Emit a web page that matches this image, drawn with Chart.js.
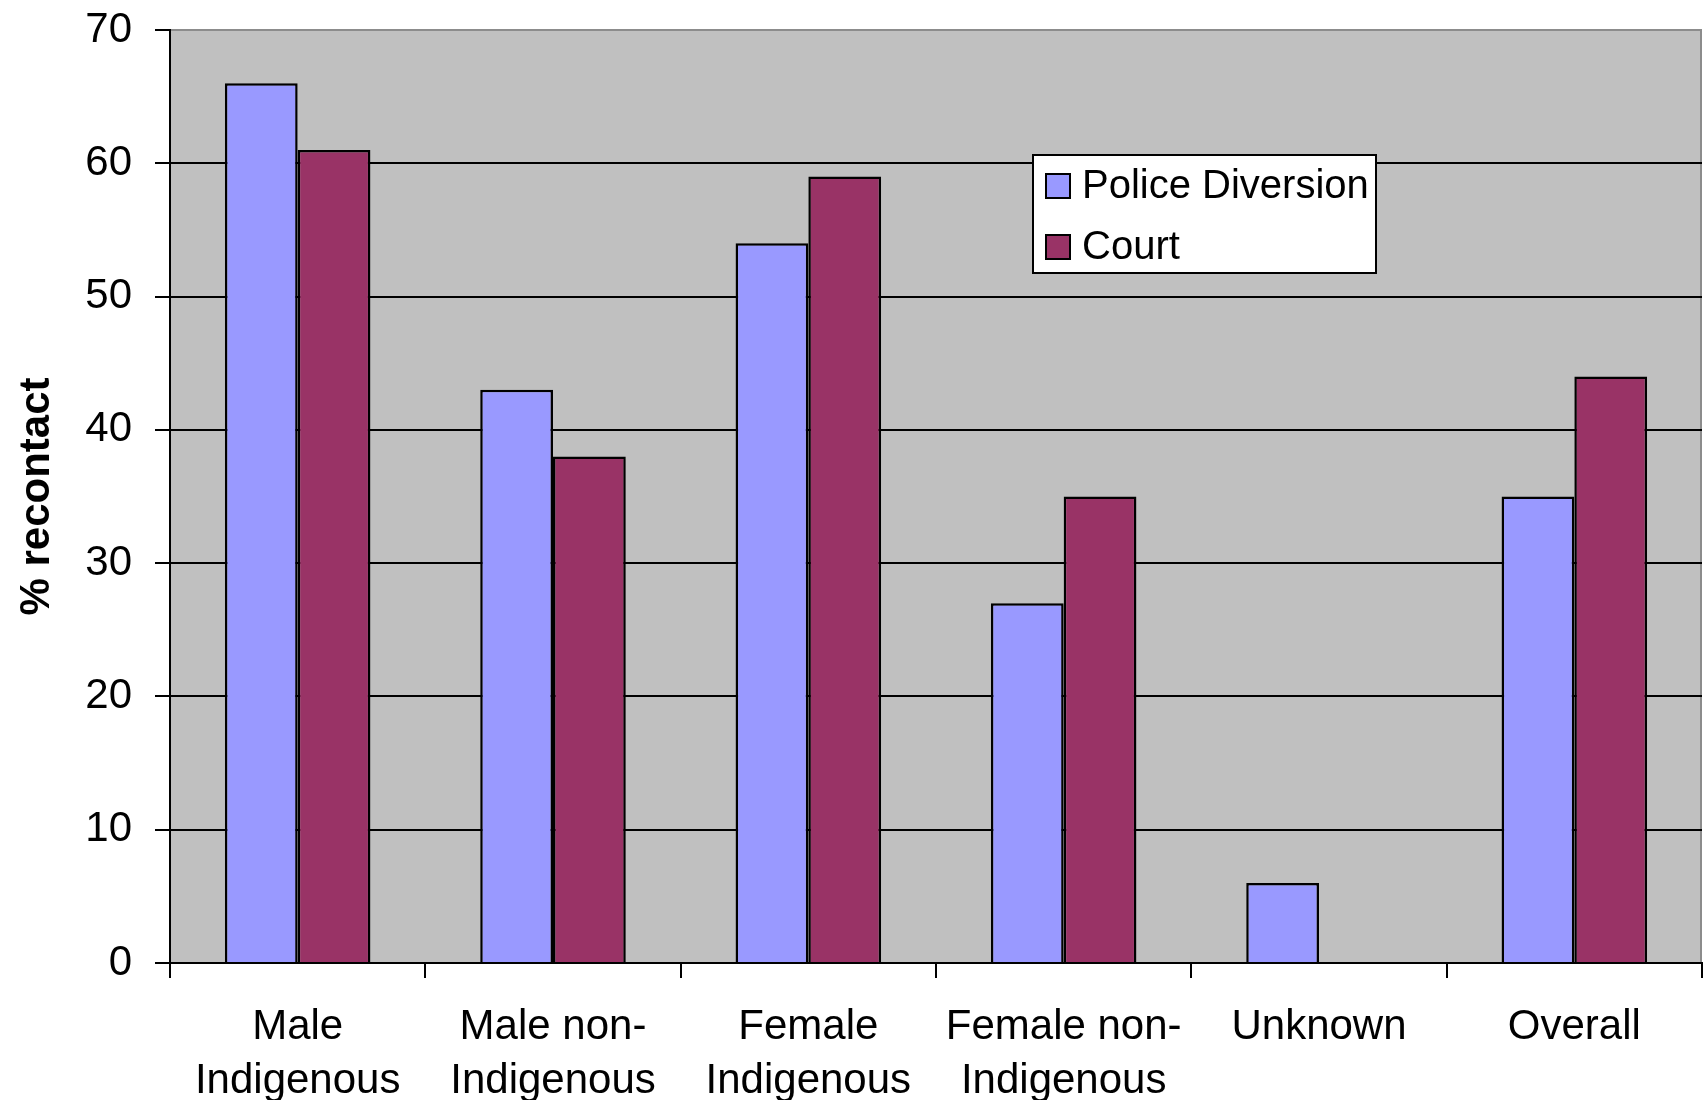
<!DOCTYPE html>
<html>
<head>
<meta charset="utf-8">
<script src="https://cdn.jsdelivr.net/npm/chart.js@4.4.1/dist/chart.umd.min.js"></script>
<style>
  html, body { margin: 0; padding: 0; background: #ffffff; }
  canvas { display: block; }
</style>
</head>
<body>
<canvas id="chart" width="1703" height="1100"></canvas>
<script>
// Recontact rates by group and processing route
const categories = [
  ['Male', 'Indigenous'],
  ['Male non-', 'Indigenous'],
  ['Female', 'Indigenous'],
  ['Female non-', 'Indigenous'],
  'Unknown',
  'Overall'
];
const policeDiversion = [66, 43, 54, 27, 6, 35];
const court = [61, 38, 59, 35, null, 44];
const yTickValues = [0, 10, 20, 30, 40, 50, 60, 70];
const seriesNames = ['Police Diversion', 'Court'];
const seriesColors = ['#9999FF', '#993366'];

const FONT = "'Liberation Sans', Arial, sans-serif";

// Grey plot background with a thin grey frame on top and right
const plotBackground = {
  id: 'plotBackground',
  beforeDraw(chart) {
    const { ctx, chartArea: a } = chart;
    ctx.save();
    ctx.fillStyle = '#C0C0C0';
    ctx.fillRect(a.left, a.top, a.right - a.left, a.bottom - a.top);
    ctx.strokeStyle = '#8c8c8c';
    ctx.lineWidth = 2;
    ctx.beginPath();
    ctx.moveTo(a.left, a.top);
    ctx.lineTo(a.right - 1, a.top);
    ctx.lineTo(a.right - 1, a.bottom);
    ctx.stroke();
    ctx.restore();
  }
};

// Boxed legend inside the plot area
const boxedLegend = {
  id: 'boxedLegend',
  afterDatasetsDraw(chart) {
    const { ctx } = chart;
    const box = { x: 1033, y: 155, w: 343, h: 118 };
    ctx.save();
    ctx.fillStyle = '#ffffff';
    ctx.fillRect(box.x, box.y, box.w, box.h);
    ctx.strokeStyle = '#000000';
    ctx.lineWidth = 2;
    ctx.strokeRect(box.x, box.y, box.w, box.h);
    ctx.font = '40px ' + FONT;
    ctx.textBaseline = 'middle';
    ctx.textAlign = 'left';
    chart.data.datasets.forEach((ds, i) => {
      const cy = 186 + i * 61;
      ctx.fillStyle = ds.backgroundColor;
      ctx.fillRect(1046, cy - 12, 24, 24);
      ctx.strokeStyle = '#000000';
      ctx.lineWidth = 2;
      ctx.strokeRect(1046, cy - 12, 24, 24);
      ctx.fillStyle = '#000000';
      ctx.fillText(ds.label, 1082, cy + 1);
    });
    ctx.restore();
  }
};

new Chart(document.getElementById('chart'), {
  type: 'bar',
  data: {
    labels: categories,
    datasets: [
      {
        label: seriesNames[0],
        data: policeDiversion,
        backgroundColor: seriesColors[0],
        borderColor: '#000000',
        borderWidth: 2.5
      },
      {
        label: seriesNames[1],
        data: court,
        backgroundColor: seriesColors[1],
        borderColor: '#000000',
        borderWidth: 2.5
      }
    ]
  },
  options: {
    responsive: false,
    animation: false,
    devicePixelRatio: 1,
    layout: { padding: { top: 30, right: 1, left: 0, bottom: 0 } },
    datasets: {
      bar: { categoryPercentage: 0.57, barPercentage: 1.0 }
    },
    plugins: {
      legend: { display: false },
      tooltip: { enabled: false }
    },
    scales: {
      x: {
        offset: true,
        grid: {
          offset: true,
          drawOnChartArea: false,
          drawTicks: true,
          tickLength: 15,
          color: '#000000',
          lineWidth: 2
        },
        border: { display: true, color: '#000000', width: 2 },
        ticks: {
          color: '#000000',
          font: { family: FONT, size: 42, lineHeight: 1.28 },
          padding: 23,
          maxRotation: 0,
          minRotation: 0,
          autoSkip: false
        },
        afterFit(scale) {
          scale.height = 137;
          scale.paddingLeft = 0;
          scale.paddingRight = 0;
        }
      },
      y: {
        min: 0,
        max: 70,
        afterBuildTicks(scale) {
          scale.ticks = yTickValues.map(v => ({ value: v }));
        },
        grid: {
          color: ctx => (ctx.tick && ctx.tick.value === 70) ? '#8c8c8c' : '#000000',
          tickColor: '#000000',
          lineWidth: 2,
          tickLength: 15,
          drawTicks: true
        },
        border: { display: true, color: '#000000', width: 2 },
        ticks: {
          color: '#000000',
          font: { family: FONT, size: 42 },
          padding: 23
        },
        title: {
          display: true,
          text: '% recontact',
          color: '#000000',
          font: { family: FONT, size: 42, weight: 'bold', lineHeight: 1.2 },
          padding: { top: 12, bottom: 0 }
        },
        afterFit(scale) {
          scale.width = 170;
          scale.paddingTop = 0;
          scale.paddingBottom = 0;
        }
      }
    }
  },
  plugins: [plotBackground, boxedLegend]
});
</script>
</body>
</html>
